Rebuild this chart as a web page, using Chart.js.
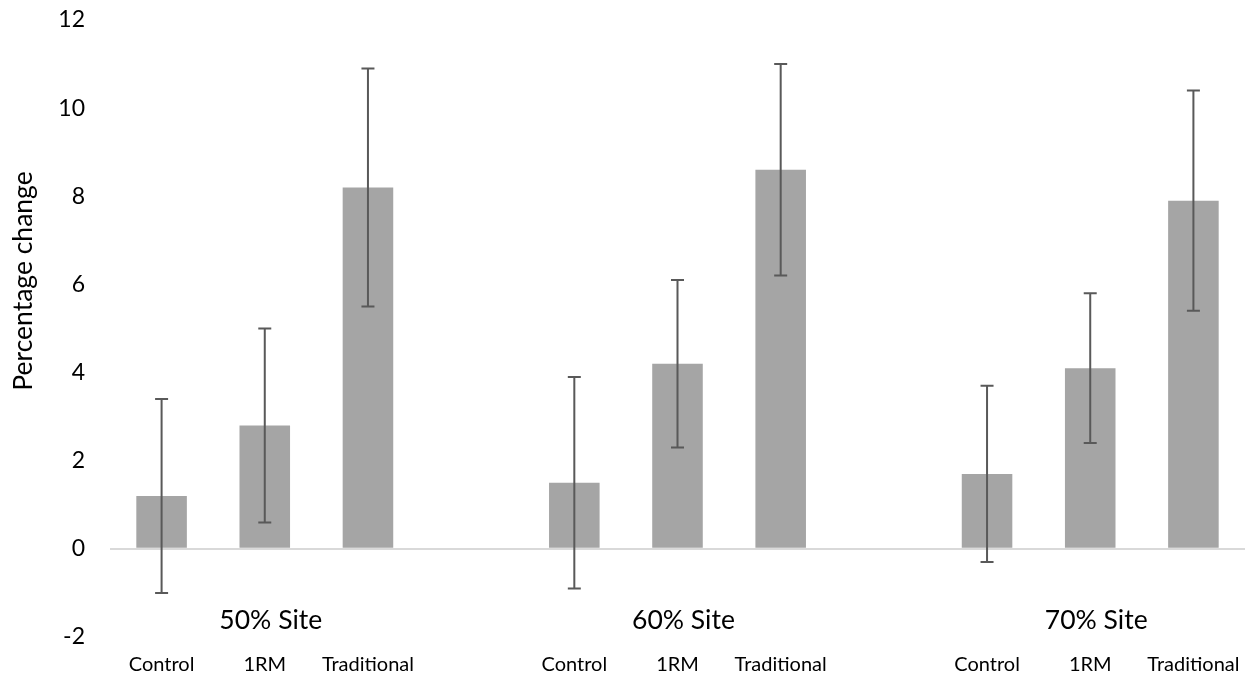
<!DOCTYPE html>
<html>
<head>
<meta charset="utf-8">
<script src="https://cdn.jsdelivr.net/npm/chart.js@4/dist/chart.umd.min.js"></script>
<style>
html,body{margin:0;padding:0;background:#fff;}
#wrap{width:1245px;height:680px;position:relative;}
</style>
</head>
<body>
<div id="wrap"><canvas id="c"></canvas></div>
<script>
// Categories (empty strings are the gaps between site groups)
const categories = ['Control','1RM','Traditional','','Control','1RM','Traditional','','Control','1RM','Traditional'];
// Group labels and the category index they sit under
const groupLabels = ['50% Site','60% Site','70% Site'];
const groupIndex = [1,5,9];
// Mean percentage change
const values = [1.2,2.8,8.2,null,1.5,4.2,8.6,null,1.7,4.1,7.9];
// Error bar half-lengths (+/-)
const errors = [2.2,2.2,2.7,null,2.4,1.9,2.4,null,2.0,1.7,2.5];
// Y-axis ticks
const yMin = -2, yMax = 12, yStep = 2;
const yTitle = 'Percentage change';

const FONT = 'Lato, "Open Sans", sans-serif';

const errorBarPlugin = {
  id: 'errorBars',
  afterDatasetsDraw(chart) {
    const ctx = chart.ctx;
    const x = chart.scales.x, y = chart.scales.y;
    ctx.save();
    ctx.strokeStyle = '#595959';
    ctx.lineWidth = 2;
    values.forEach((v, i) => {
      if (v === null || errors[i] === null) return;
      const px = x.getPixelForValue(i);
      const top = y.getPixelForValue(v + errors[i]);
      const bot = y.getPixelForValue(v - errors[i]);
      ctx.beginPath();
      ctx.moveTo(px, top); ctx.lineTo(px, bot);
      ctx.moveTo(px - 6.5, top); ctx.lineTo(px + 6.5, top);
      ctx.moveTo(px - 6.5, bot); ctx.lineTo(px + 6.5, bot);
      ctx.stroke();
    });
    ctx.restore();
  }
};

const groupLabelPlugin = {
  id: 'groupLabels',
  afterDraw(chart) {
    const ctx = chart.ctx;
    const x = chart.scales.x, y = chart.scales.y;
    ctx.save();
    ctx.fillStyle = '#000';
    ctx.font = '26.5px ' + FONT;
    ctx.textAlign = 'center';
    ctx.textBaseline = 'middle';
    groupLabels.forEach((g, k) => {
      ctx.fillText(g, x.getPixelForValue(groupIndex[k]) + 6, y.getPixelForValue(-1.62));
    });
    // rotated y-axis title
    ctx.translate(23, 281);
    ctx.rotate(-Math.PI / 2);
    ctx.font = '26.5px ' + FONT;
    ctx.fillText(yTitle, 0, 0);
    ctx.restore();
  }
};

new Chart(document.getElementById('c'), {
  type: 'bar',
  data: {
    labels: categories,
    datasets: [{
      data: values,
      backgroundColor: '#a5a5a5',
      borderWidth: 0,
      categoryPercentage: 1.0,
      barPercentage: 0.49
    }]
  },
  options: {
    responsive: true,
    maintainAspectRatio: false,
    animation: false,
    layout: { padding: { top: 20, right: 0, left: 0, bottom: 0 } },
    plugins: { legend: { display: false }, tooltip: { enabled: false } },
    scales: {
      x: {
        offset: true,
        grid: { display: false, drawTicks: false },
        border: { display: false },
        ticks: {
          color: '#000',
          font: { family: FONT, size: 20 },
          padding: 16,
          maxRotation: 0,
          autoSkip: false
        },
        afterFit(s) { s.height = 43; s.paddingLeft = 0; s.paddingRight = 0; }
      },
      y: {
        min: yMin, max: yMax,
        border: { display: false },
        grid: {
          drawTicks: false,
          lineWidth: 2,
          color: (c) => (c.tick && c.tick.value === 0) ? '#d9d9d9' : 'rgba(0,0,0,0)'
        },
        ticks: {
          stepSize: yStep,
          color: '#000',
          font: { family: FONT, size: 23 },
          padding: 25
        },
        afterFit(s) { s.width = 110; s.paddingTop = 0; s.paddingBottom = 0; }
      }
    }
  },
  plugins: [errorBarPlugin, groupLabelPlugin]
});
</script>
</body>
</html>
